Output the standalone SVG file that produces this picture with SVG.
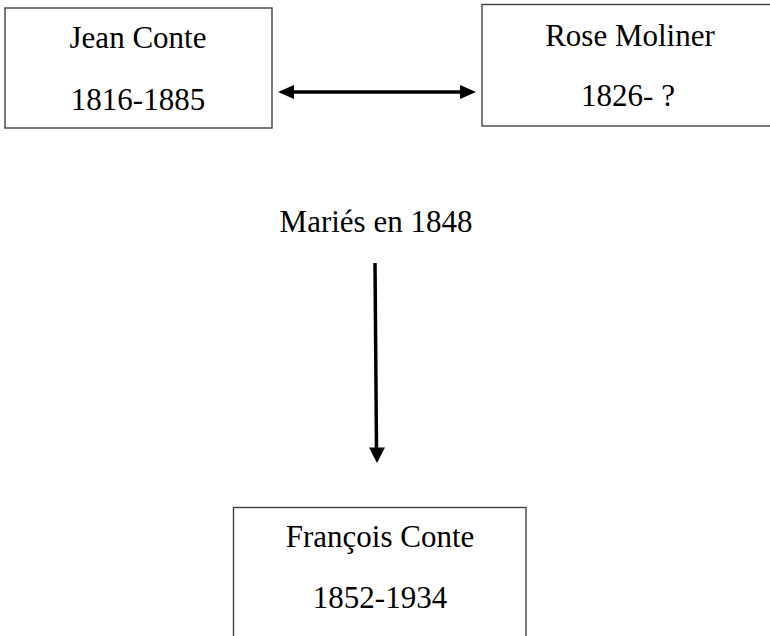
<svg xmlns="http://www.w3.org/2000/svg" width="770" height="636" viewBox="0 0 770 636">
<defs>
<style>
.box{fill:#fff;stroke:#404040;stroke-width:1.4}
.t{font-family:'Liberation Serif','DejaVu Serif',serif;font-size:31px;fill:#000;text-anchor:middle}
.c{stroke:#000;stroke-width:3.5;fill:none}
.h{fill:#000}
</style>
</defs>
<rect width="770" height="636" fill="#fff"/>
<g id="jean">
<rect class="box" x="5" y="8" width="267" height="120"/>
<text class="t" x="138" y="48" font-family="Liberation Serif, DejaVu Serif, serif">Jean Conte</text>
<text class="t" x="138" y="110" font-family="Liberation Serif, DejaVu Serif, serif">1816-1885</text>
</g>
<g id="rose">
<rect class="box" x="482" y="4.5" width="300" height="121.5"/>
<text class="t" x="630" y="46" font-family="Liberation Serif, DejaVu Serif, serif">Rose Moliner</text>
<text class="t" x="628" y="106" font-family="Liberation Serif, DejaVu Serif, serif">1826- ?</text>
</g>
<g id="francois">
<rect class="box" x="233.5" y="507.5" width="292.5" height="140"/>
<text class="t" x="380" y="547" font-family="Liberation Serif, DejaVu Serif, serif">François Conte</text>
<text class="t" x="380" y="608" font-family="Liberation Serif, DejaVu Serif, serif">1852-1934</text>
</g>
<g id="label">
<text class="t" x="376" y="232" font-family="Liberation Serif, DejaVu Serif, serif">Mariés en 1848</text>
</g>
<g id="connectors">
<line class="c" x1="290" y1="92" x2="464" y2="92"/>
<polygon class="h" points="278,92 294,85 294,99"/>
<polygon class="h" points="476,92 460,85 460,99"/>
<line class="c" x1="375" y1="263" x2="376.5" y2="450"/>
<polygon class="h" points="369,447.5 385,447.5 377,463"/>
</g>
</svg>
